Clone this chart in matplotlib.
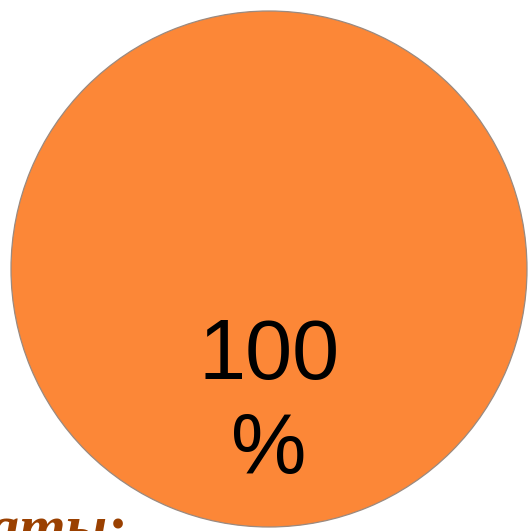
import numpy as np
import matplotlib.pyplot as plt

# data
labels = ['']
values = [100]
colors = ['#FC8737']

W, H = 528, 531
fig = plt.figure(figsize=(W/100, H/100), dpi=100)

# круг: примерно от 11 до 527 px
ax = fig.add_axes([11/W, (H-527)/H, 516/W, 516/H])

def fmt(p):
    return '%d\n%%' % round(p)

wedges, texts, autotexts = ax.pie(values, labels=labels, colors=colors,
                                  startangle=90, autopct=fmt, pctdistance=0.525,
                                  wedgeprops=dict(edgecolor='#9a8a80', linewidth=0.9))
for t in autotexts:
    t.set_fontsize(61)
    t.set_family(['Liberation Sans', 'DejaVu Sans'])
    t.set_color('black')
    t.set_linespacing(1.23)
ax.set_xlim(-1.0, 1.0)
ax.set_ylim(-1.0, 1.0)
ax.set_aspect('auto')
ax.axis('off')

# обрезанный заголовок слайда внизу слева
fig.text(127/W, -15/H, 'Результаты:', ha='right', va='baseline',
         fontsize=43, fontweight='bold', fontstyle='italic',
         family=['Liberation Serif', 'DejaVu Serif'], color='#9A4000')

fig.savefig('out.png', dpi=100)
